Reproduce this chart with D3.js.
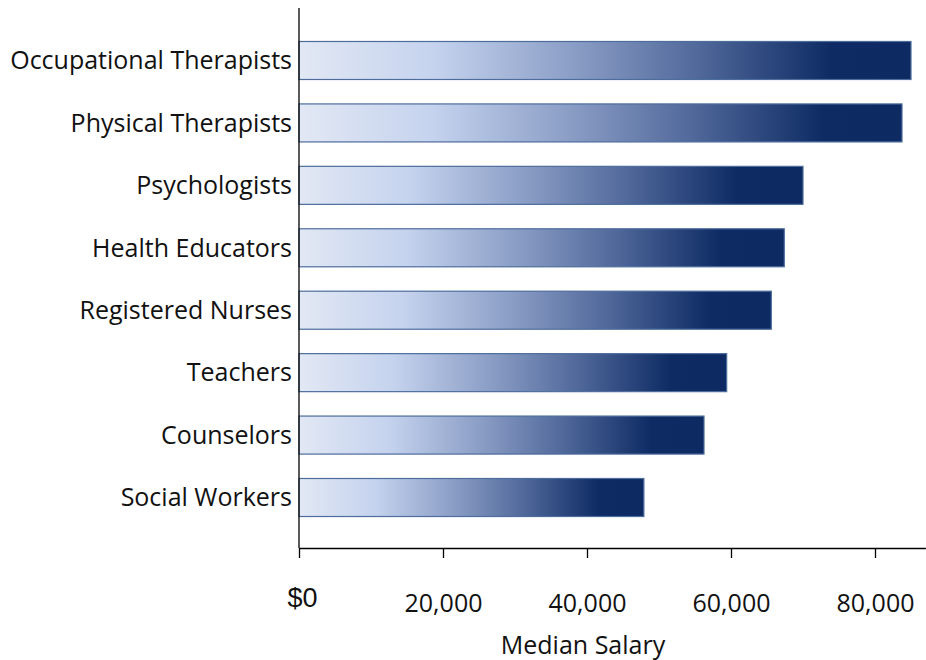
<!DOCTYPE html>
<html>
<head>
<meta charset="utf-8">
<script src="https://cdn.jsdelivr.net/npm/d3@7"></script>
<style>
  html, body { margin: 0; padding: 0; background: #fff; }
  svg { display: block; }
  .lbl { font-family: "Open Sans", "Noto Sans", sans-serif; fill: #111; }
</style>
</head>
<body>
<svg id="chart" width="926" height="660"></svg>
<script>
// Median salary by occupation
const occupations = [
  "Occupational Therapists",
  "Physical Therapists",
  "Psychologists",
  "Health Educators",
  "Registered Nurses",
  "Teachers",
  "Counselors",
  "Social Workers"
];
const salaries = [85000, 83750, 70000, 67400, 65600, 59400, 56250, 47900];
const tickValues = [0, 20000, 40000, 60000, 80000];
const tickLabels = ["$0", "20,000", "40,000", "60,000", "80,000"];
const axisTitle = "Median Salary";

const svg = d3.select("#chart");

const x = d3.scaleLinear().domain([0, 87000]).range([299, 925.4]);
const y = d3.scaleBand().domain(occupations).range([29, 529])
  .paddingInner(0.391).paddingOuter(0.2);

// Horizontal gradient applied per bar
const defs = svg.append("defs");
const grad = defs.append("linearGradient").attr("id", "barGrad")
  .attr("x1", "0%").attr("x2", "100%").attr("y1", "0%").attr("y2", "0%");
[
  [0, "#e2e8f4"],
  [0.22, "#c5d3ee"],
  [0.45, "#8a9dc5"],
  [0.65, "#51699b"],
  [0.87, "#0e2b64"],
  [1, "#0d2a63"]
].forEach(([o, c]) => grad.append("stop").attr("offset", o).attr("stop-color", c));

// Bars
svg.append("g").selectAll("rect")
  .data(occupations)
  .join("rect")
  .attr("x", x(0))
  .attr("y", d => y(d))
  .attr("width", (d, i) => x(salaries[i]) - x(0))
  .attr("height", y.bandwidth())
  .attr("fill", "url(#barGrad)")
  .attr("stroke", "#4d6d9c")
  .attr("stroke-width", 1.2);

// Category labels
svg.append("g").selectAll("text")
  .data(occupations)
  .join("text")
  .attr("class", "lbl")
  .attr("x", 292)
  .attr("y", d => y(d) + y.bandwidth() / 2)
  .attr("dy", "0.35em")
  .attr("text-anchor", "end")
  .attr("font-size", 25)
  .attr("textLength", null)
  .text(d => d);

// Left axis line
svg.append("line")
  .attr("x1", x(0)).attr("x2", x(0))
  .attr("y1", 8).attr("y2", 548)
  .attr("stroke", "#000").attr("stroke-width", 1.3);

// Bottom axis
const xAxis = d3.axisBottom(x)
  .tickValues(tickValues)
  .tickSize(10)
  .tickSizeOuter(0)
  .tickFormat((d, i) => tickLabels[i]);

const gx = svg.append("g").attr("transform", "translate(0,548)").call(xAxis);
gx.select(".domain").attr("stroke", "#000").attr("stroke-width", 1.3);
gx.selectAll(".tick line").attr("stroke", "#000").attr("stroke-width", 1.3);
gx.selectAll(".tick text")
  .attr("y", 64)
  .attr("dy", "0")
  .attr("fill", "#111")
  .attr("font-size", (d, i) => i === 0 ? 27 : 25)
  .attr("font-family", (d, i) => i === 0 ? "Arial, 'Liberation Sans', sans-serif" : "'Open Sans', 'Noto Sans', sans-serif")
  .attr("transform", (d, i) => i === 0 ? "translate(3,-5)" : null);

// Axis title
svg.append("text")
  .attr("class", "lbl")
  .attr("x", 583)
  .attr("y", 654)
  .attr("text-anchor", "middle")
  .attr("font-size", 25)
  .text(axisTitle);
</script>
</body>
</html>
